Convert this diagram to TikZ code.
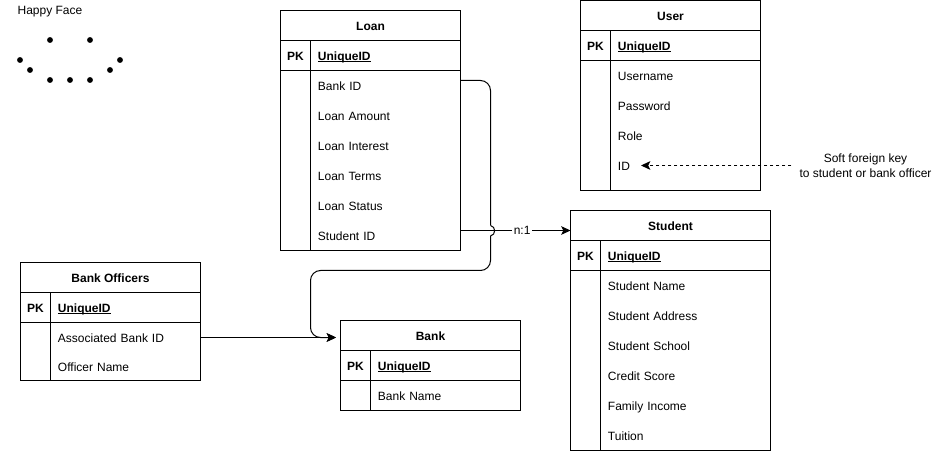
\documentclass[tikz,border=0pt]{standalone}
\usepackage{fontspec}
\setmainfont{Liberation Sans}
\usetikzlibrary{arrows.meta}

\tikzset{
  cell/.style={draw=black,line width=0.75pt,outer sep=0pt,minimum height=22.5pt,inner sep=0pt,
    text height=7pt,text depth=0pt},
  titlecell/.style={cell,font=\fontsize{9}{11}\selectfont\bfseries},
  keycell/.style={cell,font=\fontsize{9}{11}\selectfont\bfseries,minimum width=22.5pt},
  idcell/.style={cell,font=\fontsize{9}{11}\selectfont\bfseries,anchor=west,inner xsep=5.6pt},
  rowcell/.style={outer sep=0pt,minimum height=22.5pt,inner sep=0pt,inner xsep=5.6pt,anchor=west,
    text height=7pt,text depth=0pt,font=\fontsize{9}{11}\selectfont},
  body/.style={line width=0.75pt},
  link/.style={line width=0.75pt,-{Stealth[length=7pt,width=6.5pt,inset=1.6pt]}},
  plainlink/.style={line width=0.75pt},
  dot/.style={circle,fill=black,minimum size=4.4pt,inner sep=0pt},
  note/.style={font=\fontsize{9}{11}\selectfont,align=center,inner sep=6pt}
}
\newcommand{\keyname}{\rlap{\rule[-1.6pt]{39.8pt}{0.75pt}}UniqueID}

\begin{document}
\begin{tikzpicture}[x=0.75pt,y=-0.75pt]
  \useasboundingbox (0,0) rectangle (942,452);

  % happy face
  \node[note,inner sep=0pt,text height=7pt,text depth=0pt] (faceTitle) at (50,10) {Happy Face};
  \foreach \dotx/\doty [count=\d] in {50/40,90/40,20/60,30/70,50/80,70/80,90/80,110/70,120/60}
    \node[dot] (face\d) at (\dotx,\doty) {};

  % Loan
  \draw[body] (280.5,70.5) rectangle (460.5,250.5);
  \draw[body] (310.5,70.5) -- (310.5,250.5);
  \node[titlecell,minimum width=135pt] (loanTitle) at (370.5,25.5) {Loan};
  \node[keycell] (loanPK) at (295.5,55.5) {PK};
  \node[idcell,text width=101.3pt] (loanID) at (310.5,55.5) {\keyname};
  \foreach \rowtext [count=\i] in {Bank ID,Loan Amount,Loan Interest,Loan Terms,Loan Status,Student ID}
    \node[rowcell,text width=101.3pt] (loanRow\i) at (310.5,55.5+30*\i) {\rowtext};

  % User
  \draw[body] (580.5,60.5) rectangle (760.5,190.5);
  \draw[body] (610.5,60.5) -- (610.5,190.5);
  \node[titlecell,minimum width=135pt] (userTitle) at (670.5,15.5) {User};
  \node[keycell] (userPK) at (595.5,45.5) {PK};
  \node[idcell,text width=101.3pt] (userID) at (610.5,45.5) {\keyname};
  \foreach \rowtext [count=\i] in {Username,Password,Role,ID}
    \node[rowcell,text width=101.3pt] (userRow\i) at (610.5,45.5+30*\i) {\rowtext};

  % Student
  \draw[body] (570.5,270.5) rectangle (770.5,450.5);
  \draw[body] (600.5,270.5) -- (600.5,450.5);
  \node[titlecell,minimum width=150pt] (studentTitle) at (670.5,225.5) {Student};
  \node[keycell] (studentPK) at (585.5,255.5) {PK};
  \node[idcell,text width=116.3pt] (studentID) at (600.5,255.5) {\keyname};
  \foreach \rowtext [count=\i] in {Student Name,Student Address,Student School,Credit Score,Family Income,Tuition}
    \node[rowcell,text width=116.3pt] (studentRow\i) at (600.5,255.5+30*\i) {\rowtext};

  % Bank Officers
  \draw[body] (20.5,322.5) rectangle (200.5,380.5);
  \draw[body] (50.5,322.5) -- (50.5,380.5);
  \node[titlecell,minimum width=135pt] (officerTitle) at (110.5,277.5) {Bank Officers};
  \node[keycell] (officerPK) at (35.5,307.5) {PK};
  \node[idcell,text width=101.3pt] (officerID) at (50.5,307.5) {\keyname};
  \node[rowcell,text width=101.3pt] (officerRow1) at (50.5,337.5) {Associated Bank ID};
  \node[rowcell,text width=101.3pt] (officerRow2) at (50.5,366.5) {Officer Name};

  % Bank
  \draw[body] (340.5,380.5) rectangle (520.5,410.5);
  \draw[body] (370.5,380.5) -- (370.5,410.5);
  \node[titlecell,minimum width=135pt] (bankTitle) at (430.5,335.5) {Bank};
  \node[keycell] (bankPK) at (355.5,365.5) {PK};
  \node[idcell,text width=101.3pt] (bankID) at (370.5,365.5) {\keyname};
  \node[rowcell,text width=101.3pt] (bankRow1) at (370.5,395.5) {Bank Name};

  % connectors
  \coordinate (softTip) at (641,165.5);
  \coordinate (bankTip) at (336,337.5);
  \coordinate (jumpTop) at (490.5,225.5);
  \coordinate (jumpEnd) at (490.5,236);
  \coordinate (bankOut) at ([yshift=3.75pt]loanRow1.east);
  \coordinate (studentOut) at ([yshift=3.75pt]loanRow6.east);
  \node[note] (softKey) at (865.5,165.5) {Soft foreign key\\to student or bank officer};
  \draw[link,dash pattern=on 2.25pt off 2.25pt] (softKey.west) -- (softTip);
  \draw[link] (officerRow1.east) -- (bankTip);
  \draw[plainlink,rounded corners=7.5pt] (bankOut) -| (jumpTop);
  \draw[plainlink] (jumpTop) .. controls (496,226.5) and (496,235) .. (jumpEnd);
  \draw[link,rounded corners=7.5pt] (jumpEnd) -- (490.5,270.5) -- (310.5,270.5) -- (310.5,337.5) -- (bankTip);
  \draw[link] (studentOut) -- node[pos=0.56,fill=white,inner sep=1pt,font=\fontsize{9}{11}\selectfont] (loanLabel) {n:1} (studentOut -| studentTitle.west);
\end{tikzpicture}
\end{document}
